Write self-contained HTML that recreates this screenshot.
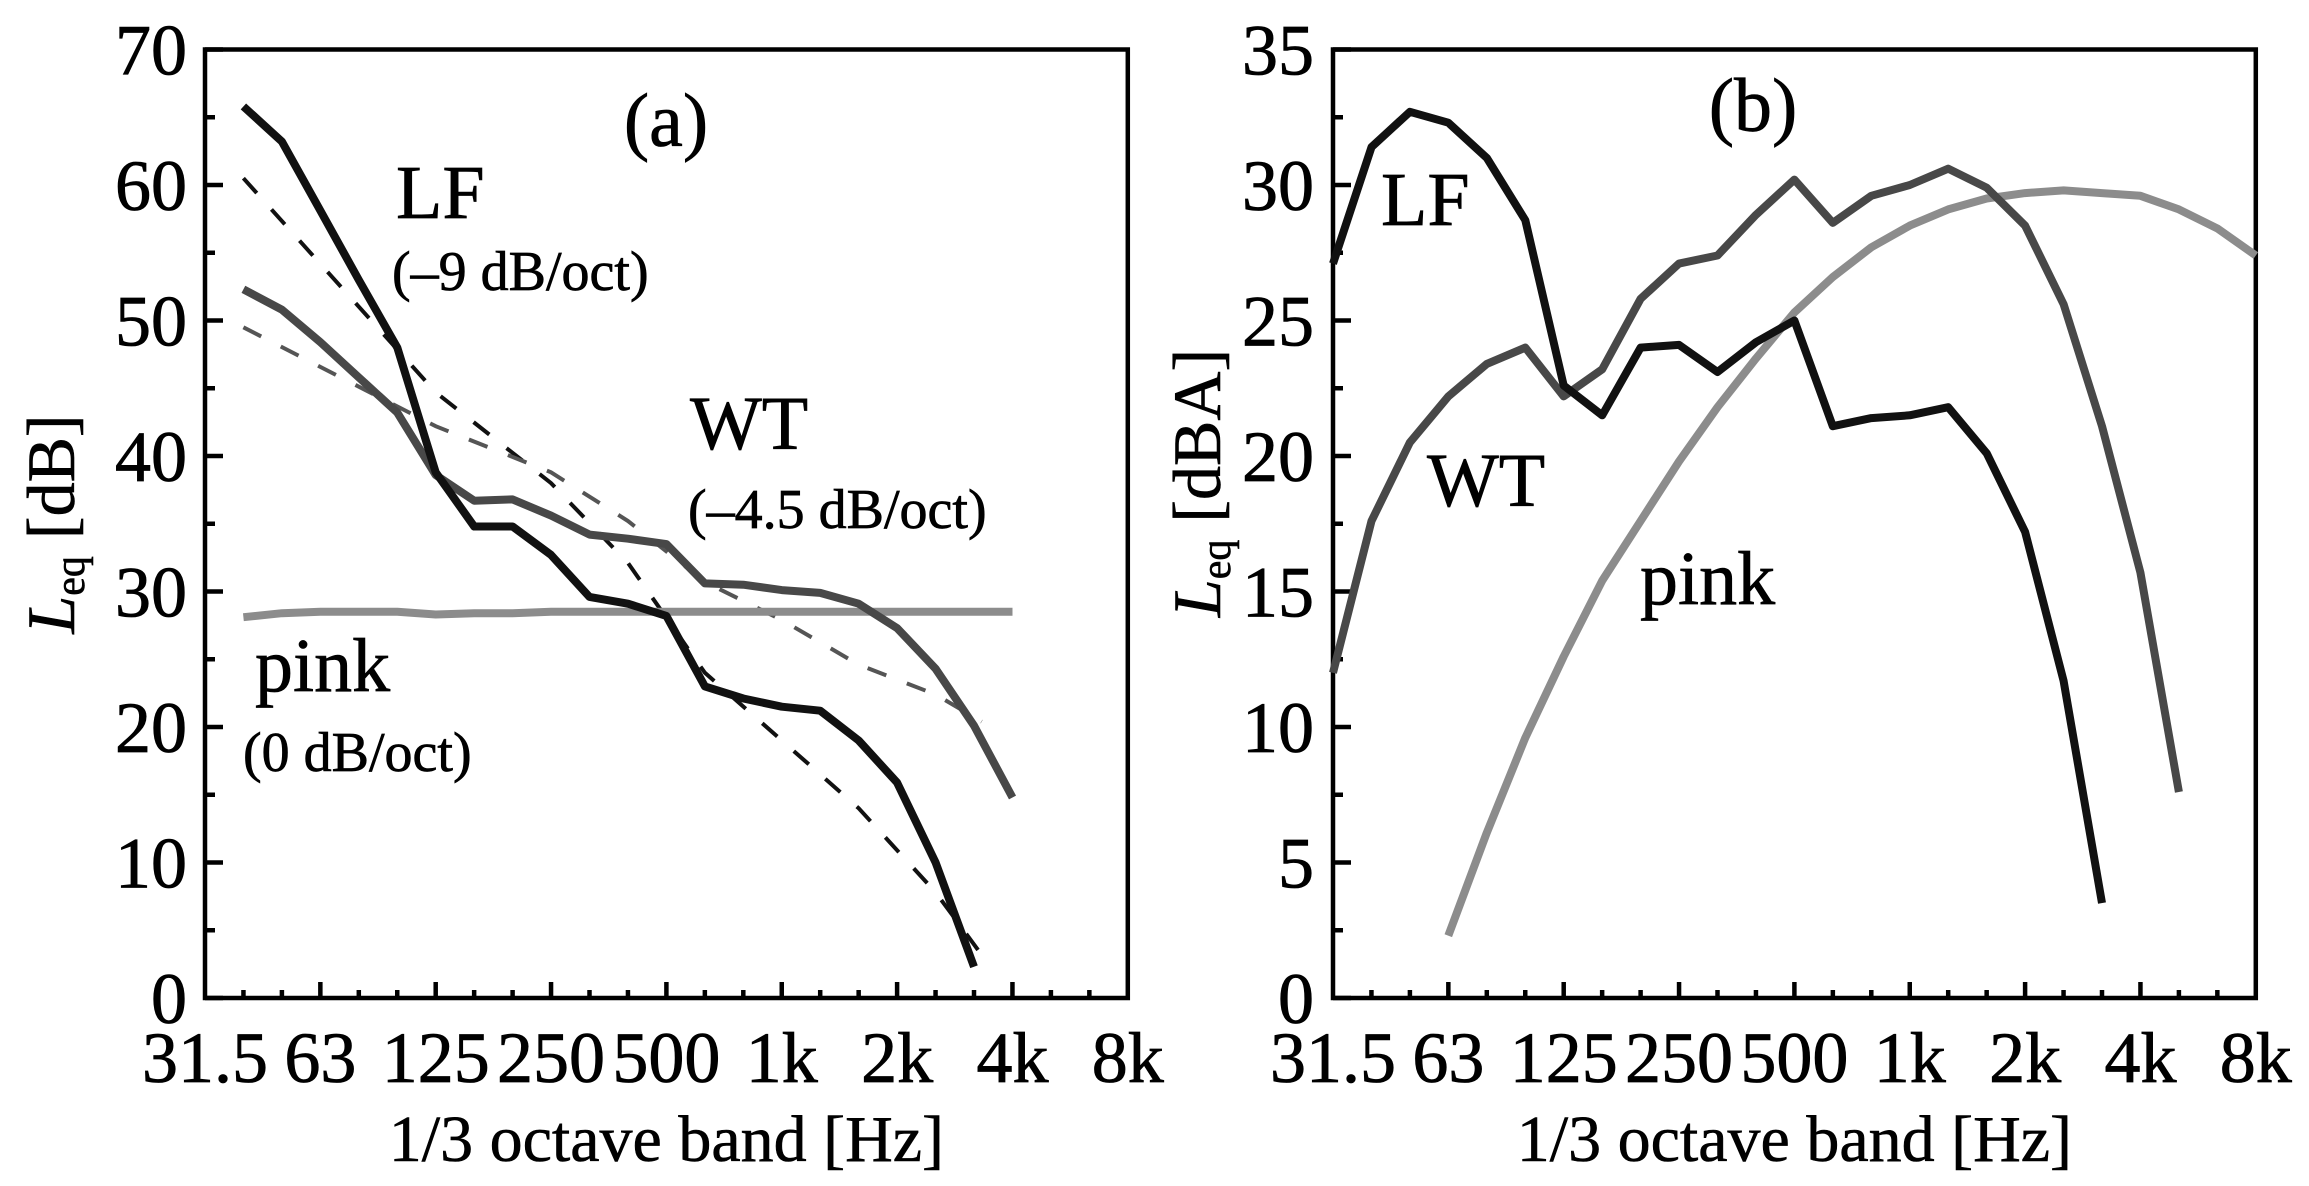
<!DOCTYPE html>
<html><head><meta charset="utf-8">
<style>
html,body{margin:0;padding:0;background:#fff;}
svg{display:block;font-family:"Liberation Serif",serif;}
</style></head>
<body>
<svg id="chart" width="2309" height="1186" viewBox="0 0 2309 1186" xmlns="http://www.w3.org/2000/svg"></svg>
<script>
// ---- data (band index: 0 = axis left, 3 bands per octave) ----
const xTickLabels = ["31.5","63","125","250","500","1k","2k","4k","8k"];
const yTicksA = [0,10,20,30,40,50,60,70];
const yTicksB = [0,5,10,15,20,25,30,35];

const lfA = [65.8,63.2,58.1,53.0,48.0,38.8,34.8,34.8,32.7,29.6,29.1,28.2,23.0,22.1,21.5,21.2,19.0,15.9,10.0,2.3];
const lfAStart = 1;
const wtA = [52.3,50.8,48.4,45.8,43.2,38.6,36.7,36.8,35.6,34.2,33.9,33.5,30.6,30.5,30.1,29.9,29.1,27.3,24.3,20.1,14.8];
const wtAStart = 1;
const pinkA = [28.1,28.4,28.5,28.5,28.5,28.3,28.4,28.4,28.5,28.5,28.5,28.5,28.5,28.5,28.5,28.5,28.5,28.5,28.5,28.5,28.5];
const pinkAStart = 1;
const lfFitBands = [1,6,9,11,13,15,17,19,20.3];
const lfFitVals = [60.5,44.7,38.0,32.1,24.0,19.0,14.0,7.8,2.8];
const wtFitBands = [1,6,9,11,13,15,17,19,20.2];
const wtFitVals = [49.5,42.2,38.8,35.2,30.7,27.9,24.6,22.4,20.4];

const lfB = [27.1,31.4,32.7,32.3,31.0,28.7,22.6,21.5,24.0,24.1,23.1,24.2,25.0,21.1,21.4,21.5,21.8,20.1,17.2,11.7,3.5];
const lfBStart = 0;
const wtB = [12.0,17.6,20.5,22.2,23.4,24.0,22.2,23.2,25.8,27.1,27.4,28.9,30.2,28.6,29.6,30.0,30.6,29.9,28.5,25.6,21.1,15.7,7.6];
const wtBStart = 0;
const pinkB = [2.3,6.1,9.6,12.6,15.4,17.6,19.8,21.8,23.6,25.3,26.6,27.7,28.5,29.1,29.5,29.7,29.8,29.7,29.6,29.1,28.4,27.4];
const pinkBStart = 3;

const NS = "http://www.w3.org/2000/svg";
const svg = document.getElementById("chart");
function mk(tag, attrs, parent){
  const e = document.createElementNS(NS, tag);
  for (const k in attrs) e.setAttribute(k, attrs[k]);
  (parent||svg).appendChild(e);
  return e;
}
const top0 = 49.5, bot0 = 998;
const BAND = 38.45;

function panel(left, yMax, yTicks, minorStep, labelRight, name){
  const g = mk("g", {});
  
  
  const right = left + 24*BAND;
  const X = b => left + b*BAND;
  const Y = v => bot0 - v/yMax*(bot0-top0);
  const frame = mk("rect", {x:left, y:top0, width:right-left, height:bot0-top0, fill:"none", stroke:"#000", "stroke-width":4.5}, g);
  
  
  for (let v=0; v<=yMax+1e-9; v+=minorStep){
    const major = yTicks.some(t=>Math.abs(t-v)<1e-6);
    const t = mk("line",{x1:left,x2:left+(major?18:10),y1:Y(v),y2:Y(v),stroke:"#000","stroke-width":4.5},g);
    
    
  }
  yTicks.forEach(v=>{
    const t = mk("text",{x:labelRight,y:Y(v)+25,"text-anchor":"end","font-size":72,fill:"#000",stroke:"#000","stroke-width":0.8},g);
    t.textContent = v;
    
    
  });
  for (let b=1;b<24;b++){
    const major = b%3===0;
    const t = mk("line",{x1:X(b),x2:X(b),y1:bot0,y2:bot0-(major?16:8),stroke:"#000","stroke-width":4.5},g);
    
    
  }
  xTickLabels.forEach((s,i)=>{
    const t = mk("text",{x:X(i*3),y:1082,"text-anchor":"middle","font-size":72,fill:"#000",stroke:"#000","stroke-width":0.8},g);
    t.textContent = s;
    
    
  });
  const xt = mk("text",{x:(left+right)/2,y:1161,"text-anchor":"middle","font-size":66,fill:"#000",stroke:"#000","stroke-width":0.6},g);
  xt.textContent = "1/3 octave band [Hz]";
  
  
  return {X,Y,g};
}
function series(p, vals, start, color, w, name){
  const pts = vals.map((v,i)=>p.X(start+i).toFixed(1)+","+p.Y(v).toFixed(1)).join(" ");
  const e = mk("polyline", {points:pts, fill:"none", stroke:color, "stroke-width":w, "stroke-linejoin":"round"}, p.g);
  
  
}
function seriesXY(p, bands, vals, color, w, dash, name){
  const pts = vals.map((v,i)=>p.X(bands[i]).toFixed(1)+","+p.Y(v).toFixed(1)).join(" ");
  const e = mk("polyline", {points:pts, fill:"none", stroke:color, "stroke-width":w, "stroke-dasharray":dash}, p.g);
  
  
}
function label(p, x, y, size, txt, name, anchor){
  const t = mk("text",{x:x,y:y,"font-size":size,fill:"#000","text-anchor":anchor||"start",stroke:"#000","stroke-width":0.7},p.g);
  t.textContent = txt;
  
  
}
function ytitle(p, cx, cy, unit, name){
  const t = mk("text",{x:0,y:0,"font-size":68,fill:"#000",stroke:"#000","stroke-width":0.6,"text-anchor":"middle",transform:`translate(${cx},${cy}) rotate(-90)`},p.g);
  const a = mk("tspan",{"font-style":"italic"},t); a.textContent="L";
  const b = mk("tspan",{"font-size":42,dy:10},t); b.textContent="eq";
  const c = mk("tspan",{dy:-10},t); c.textContent=" ["+unit+"]";
  
  
}

// Panel (a)
const pa = panel(205, 70, yTicksA, 5, 187, "panel-a");
seriesXY(pa, lfFitBands, lfFitVals, "#111", 4, "20 22", "lf-fit-dashed");
seriesXY(pa, wtFitBands, wtFitVals, "#555", 4, "20 22", "wt-fit-dashed");
series(pa, pinkA, pinkAStart, "#8c8c8c", 8, "pink-line-a");
series(pa, wtA, wtAStart, "#484848", 8, "wt-line-a");
series(pa, lfA, lfAStart, "#111", 8, "lf-line-a");
label(pa, 666, 146, 76, "(a)", "panel-a-label", "middle");
label(pa, 396, 218, 76, "LF", "lf-label-a");
label(pa, 392, 290, 56, "(–9 dB/oct)", "lf-slope-label");
label(pa, 690, 449, 76, "WT", "wt-label-a");
label(pa, 688, 528, 56, "(–4.5 dB/oct)", "wt-slope-label");
label(pa, 255, 691, 76, "pink", "pink-label-a");
label(pa, 243, 771, 56, "(0 dB/oct)", "pink-slope-label");
ytitle(pa, 74, 524, "dB", "y-axis-title-a");

// Panel (b)
const pb = panel(1333, 35, yTicksB, 2.5, 1314, "panel-b");
series(pb, pinkB, pinkBStart, "#8c8c8c", 8, "pink-line-b");
series(pb, wtB, wtBStart, "#484848", 8, "wt-line-b");
series(pb, lfB, lfBStart, "#111", 8, "lf-line-b");
label(pb, 1753, 131, 76, "(b)", "panel-b-label", "middle");
label(pb, 1381, 225, 76, "LF", "lf-label-b");
label(pb, 1427, 506, 76, "WT", "wt-label-b");
label(pb, 1640, 604, 76, "pink", "pink-label-b");
ytitle(pb, 1220, 483, "dBA", "y-axis-title-b");
</script>
</body></html>
